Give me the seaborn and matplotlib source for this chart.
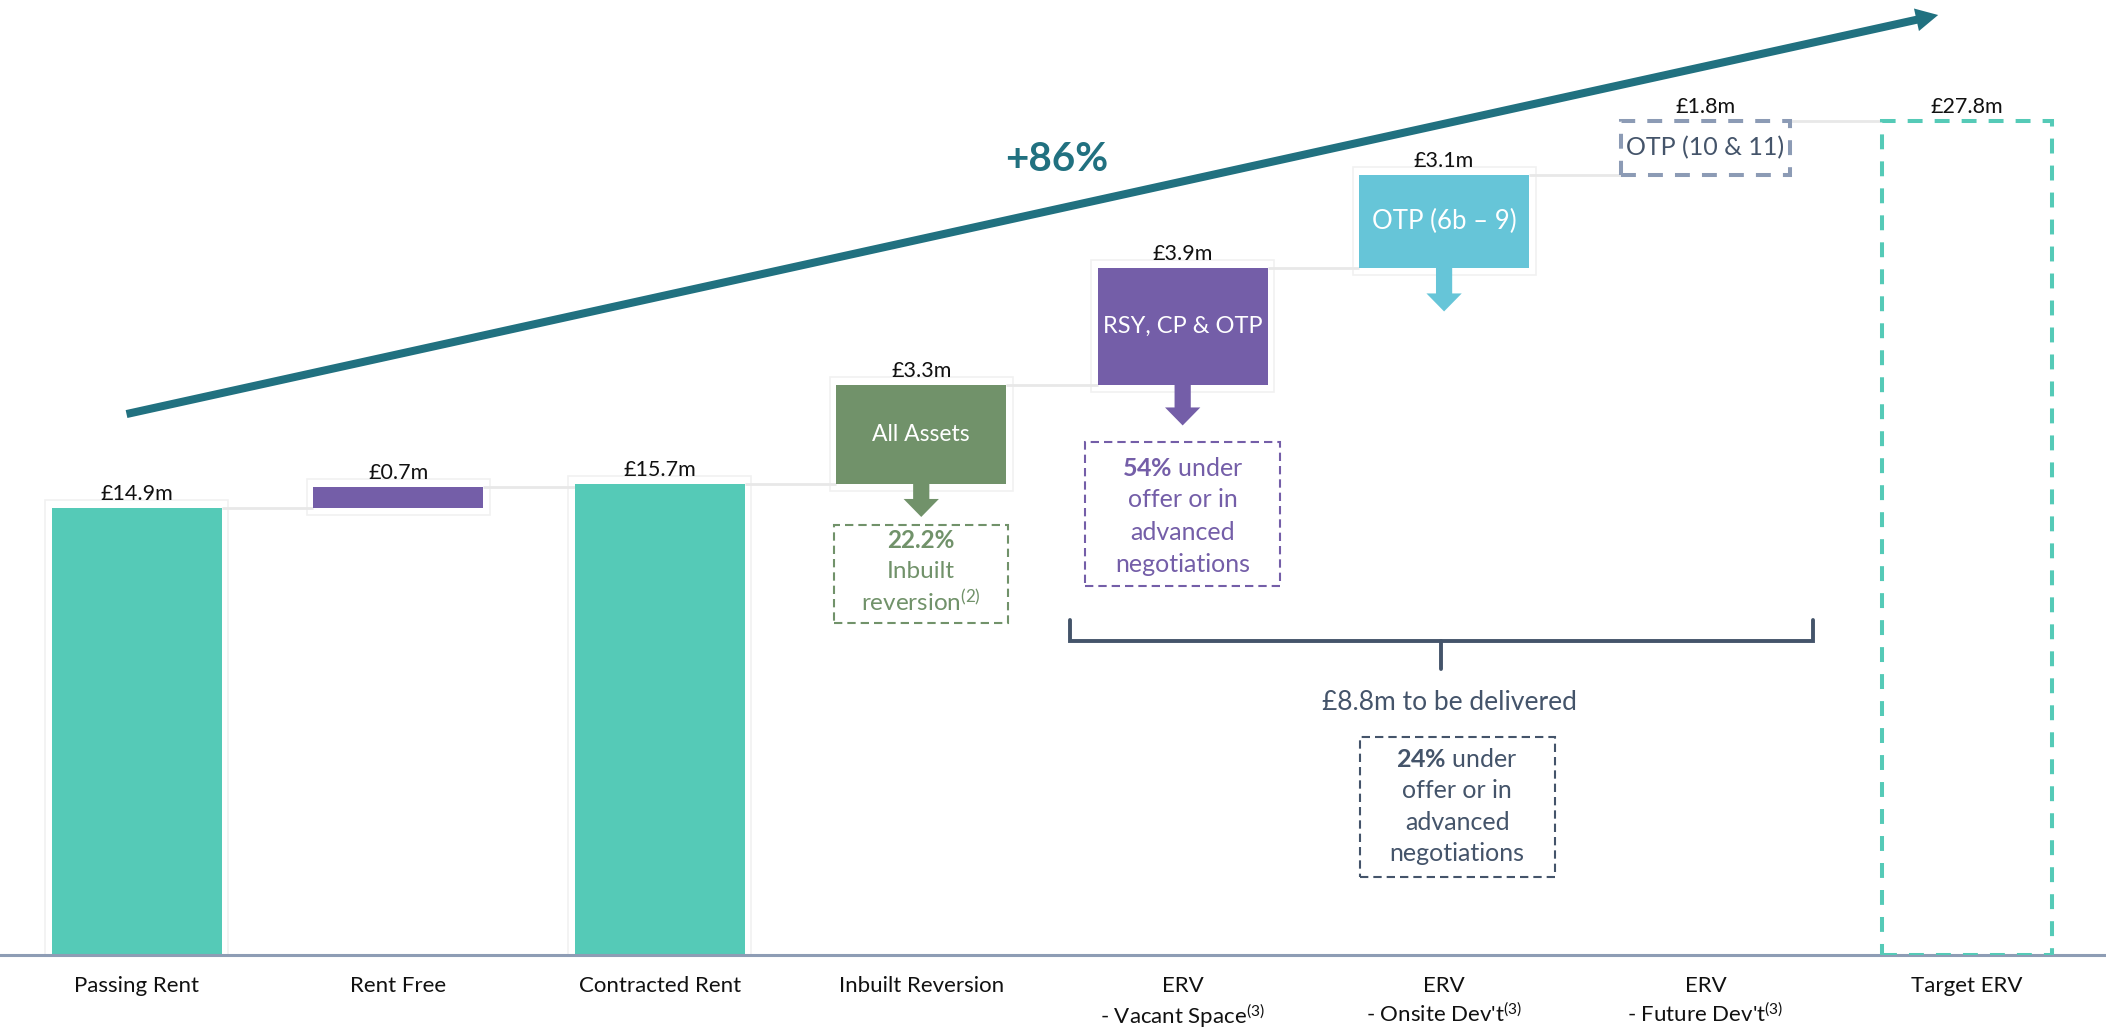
import matplotlib
matplotlib.use("Agg")
import matplotlib.pyplot as plt
import seaborn as sns
import pandas as pd
from matplotlib.patches import Rectangle, FancyArrow

# ---- data -------------------------------------------------------------
categories = [
    "Passing Rent", "Rent Free", "Contracted Rent", "Inbuilt Reversion",
    "ERV\n- Vacant Space$^{(3)}$", "ERV\n- Onsite Dev't$^{(3)}$",
    "ERV\n- Future Dev't$^{(3)}$", "Target ERV",
]
values = [14.9, 0.7, 15.7, 3.3, 3.9, 3.1, 1.8, 27.8]
is_total = [True, False, True, False, False, False, False, True]
value_labels = ["£14.9m", "£0.7m", "£15.7m", "£3.3m", "£3.9m", "£3.1m", "£1.8m", "£27.8m"]
bar_texts = ["", "", "", "All Assets", "RSY, CP & OTP", "OTP (6b – 9)", "OTP (10 & 11)", ""]
growth_label = "+86%"
inbuilt_note = ["22.2%", "Inbuilt", "reversion$^{(2)}$"]
rsy_note = ["$\\mathbf{54\\%}$ under", "offer or in", "advanced", "negotiations"]
delivered_label = "£8.8m to be delivered"
delivered_note = ["$\\mathbf{24\\%}$ under", "offer or in", "advanced", "negotiations"]

# ---- waterfall geometry from the values ------------------------------
bottoms, tops = [], []
level = 0.0
for v, tot in zip(values, is_total):
    if tot:
        bottoms.append(0.0)
        level = v
    else:
        bottoms.append(level)
        level = level + v
    tops.append(bottoms[-1] + v)

# ---- style -------------------------------------------------------------
TEAL = "#55CAB7"
PURPLE = "#745EA8"
GREEN = "#71926A"
LIGHTBLUE = "#66C5D8"
SLATE = "#44546A"
OTP_EDGE = "#8C9BB5"
ARROW = "#217180"
AXIS = "#8E9DB5"

sns.set_theme(style="white")
plt.rcParams["font.family"] = ["Lato", "DejaVu Sans"]
plt.rcParams["mathtext.fontset"] = "custom"
plt.rcParams["mathtext.rm"] = "Lato"
plt.rcParams["mathtext.it"] = "Lato:italic"
plt.rcParams["mathtext.bf"] = "Lato:bold"

fig = plt.figure(figsize=(21.06, 10.32), dpi=100)
ax = fig.add_axes([0, 0.0746, 1, 0.9254])

df = pd.DataFrame({"category": categories, "top": tops})
sns.barplot(data=df, x="category", y="top", order=categories, ax=ax,
            width=0.65, color=TEAL, saturation=1)

fills = [TEAL, PURPLE, TEAL, GREEN, PURPLE, LIGHTBLUE, None, None]
bar_w = 0.65
for i, p in enumerate(ax.patches[:len(categories)]):
    p.set_y(bottoms[i])
    p.set_height(values[i])
    if fills[i] is None:
        p.set_facecolor("none")
        p.set_edgecolor(OTP_EDGE if i == 6 else TEAL)
        p.set_linewidth(2.9)
        p.set_linestyle((0, (3.7, 3.0)))
        p.set_zorder(4)
    else:
        p.set_facecolor(fills[i])
        p.set_edgecolor("none")
        p.set_zorder(2)
        # faint frame around the solid bars
        pad_x, pad_y = 0.025, 0.25
        ax.add_patch(Rectangle((i - bar_w / 2 - pad_x, bottoms[i] - (pad_y if not is_total[i] else 0)),
                               bar_w + 2 * pad_x, values[i] + pad_y * (2 if not is_total[i] else 1),
                               facecolor="none", edgecolor="#F1F1F1", lw=1.2, zorder=1))

# connectors between consecutive bars
for i in range(len(categories) - 1):
    ax.plot([i + bar_w / 2, i + 1 - bar_w / 2], [tops[i], tops[i]],
            color="#E8E8E8", lw=2.0, zorder=1, solid_capstyle="butt")

# value labels above bars
for i, lab in enumerate(value_labels):
    ax.annotate(lab, xy=(i, tops[i]), xytext=(0, 6), textcoords="offset points",
                ha="center", va="baseline", fontsize=15.5, color="#111111", zorder=5)

# text inside bars
in_sizes = {3: 16.5, 4: 17, 5: 18.5, 6: 18}
for i, t in enumerate(bar_texts):
    if t:
        ax.text(i, (bottoms[i] + tops[i]) / 2, t, ha="center", va="center",
                fontsize=in_sizes[i], color=SLATE if i == 6 else "white", zorder=5)

# down arrows below the step bars
arrow_len = {3: 1.1, 4: 1.35, 5: 1.45}
arrow_cols = {3: GREEN, 4: PURPLE, 5: LIGHTBLUE}
for i, L in arrow_len.items():
    ax.add_patch(FancyArrow(i, bottoms[i], 0, -L, width=0.062, head_width=0.135,
                            head_length=0.6, length_includes_head=True,
                            color=arrow_cols[i], lw=0, zorder=3))

# dashed note boxes
def note_box(xc, w, y0, y1, color):
    ax.add_patch(Rectangle((xc - w / 2, y0), w, y1 - y0, facecolor="none",
                           edgecolor=color, lw=1.5, linestyle=(0, (4.0, 2.4)), zorder=3))

def note_lines(xc, ys, lines, color, size, bold_first=False):
    for k, (y, s) in enumerate(zip(ys, lines)):
        ax.text(xc, y, s, ha="center", va="center", fontsize=size, color=color,
                fontweight="bold" if (bold_first and k == 0) else "normal", zorder=5)

note_box(3.0, 0.666, 11.07, 14.33, GREEN)
note_lines(3.0, [13.8, 12.77, 11.73], inbuilt_note, GREEN, 17.5, bold_first=True)

note_box(4.0, 0.746, 12.3, 17.1, PURPLE)
note_lines(4.0, [16.23, 15.17, 14.07, 13.03], rsy_note, PURPLE, 18)

# bracket grouping the ERV steps
bx0, bx1, by = 3.57, 6.41, 10.47
ax.plot([bx0, bx0, bx1, bx1], [11.17, by, by, 11.17], color=SLATE, lw=2.8, zorder=3,
        solid_joinstyle="miter")
ax.plot([(bx0 + bx1) / 2] * 2, [by, 9.53], color=SLATE, lw=2.8, zorder=3)
ax.text(5.02, 8.43, delivered_label, ha="center", va="center", fontsize=19, color=SLATE)

note_box(5.05, 0.746, 2.6, 7.27, SLATE)
note_lines(5.05, [6.5, 5.47, 4.43, 3.4], delivered_note, SLATE, 18)

# overall growth arrow
ax.annotate("", xy=(6.89, 31.33), xytext=(-0.04, 18.03),
            arrowprops=dict(arrowstyle="simple,head_length=0.8,head_width=0.83,tail_width=0.29",
                            mutation_scale=20, color=ARROW, lw=0, shrinkA=0, shrinkB=0),
            zorder=4)
ax.text(3.52, 26.5, growth_label, ha="center", va="center", fontsize=29,
        fontweight="bold", color=ARROW)

# axes
ax.set_xlim(-0.524, 7.532)
ax.set_ylim(0, 31.83)
ax.set_yticks([])
ax.set_xlabel("")
ax.set_ylabel("")
for side in ["left", "right", "top"]:
    ax.spines[side].set_visible(False)
ax.spines["bottom"].set_color(AXIS)
ax.spines["bottom"].set_linewidth(2.2)
ax.tick_params(axis="x", length=0, pad=15, labelsize=16, labelcolor="#111111")
for lab in ax.get_xticklabels():
    lab.set_linespacing(1.3)
ax.patch.set_alpha(0)

fig.savefig("out.png", dpi=100)
